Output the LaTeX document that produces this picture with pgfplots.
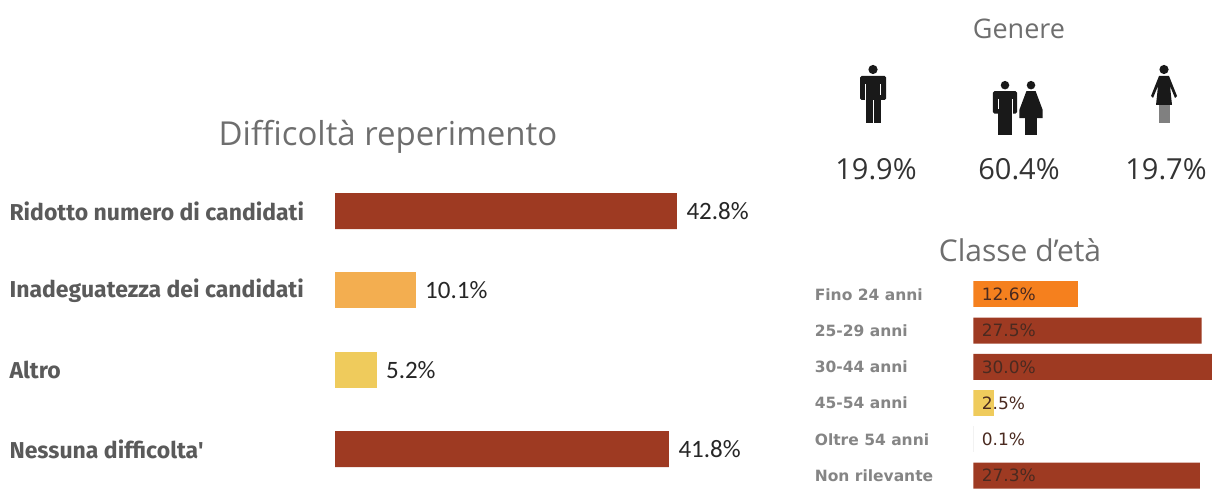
\documentclass[border=0pt]{standalone}
\usepackage{fontspec}
\usepackage{pgfplots}
\usepackage{pgfplotstable}
\pgfplotsset{compat=1.18}
\setmainfont{Open Sans}
\newfontfamily\labfont{Fira Sans}
\newfontfamily\valfont{Carlito}
\newfontfamily\smallfont{DejaVu Sans}
\definecolor{cDark}{HTML}{9E3A22}
\definecolor{cAmber}{HTML}{F3AE50}
\definecolor{cYellow}{HTML}{EFCB5C}
\definecolor{cOrange}{HTML}{F5801E}
\definecolor{cText}{HTML}{5A5A5A}
\definecolor{cTitle}{HTML}{6E6E6E}
\definecolor{cSmall}{HTML}{858585}
\definecolor{cVal}{HTML}{4A2A20}
\newcommand{\fs}[1]{\fontsize{#1}{#1}\selectfont}

% icons, 58 units tall
\newcommand{\man}[3]{\begin{scope}[shift={(#1,#2)},scale=#3]
  \fill[black!90] (0,4.5) circle[radius=4.6];
  \fill[black!90,rounded corners=1.5pt] (-13,11) rectangle (13,35);
  \fill[white] (-8,19) rectangle (-7.2,36);
  \fill[white] (7.2,19) rectangle (8,36);
  \fill[white] (-13.5,35) rectangle (-7.2,36);
  \fill[white] (7.2,35) rectangle (13.5,36);
  \fill[black!90] (-7.5,30) rectangle (-0.5,58);
  \fill[black!90] (0.5,30) rectangle (7.5,58);
\end{scope}}
\newcommand{\woman}[3]{\begin{scope}[shift={(#1,#2)},scale=#3]
  \fill[black!90] (0,4.5) circle[radius=4.6];
  \fill[black!90] (-5,11) -- (5,11) -- (13,31) -- (11,33) -- (6,21) -- (8,40) -- (-8,40) -- (-6,21) -- (-11,33) -- (-13,31) -- cycle;
  \fill[black!50] (-5.5,40) rectangle (5.5,58);
\end{scope}}
\newcommand{\womanwide}[3]{\begin{scope}[shift={(#1,#2)},scale=#3]
  \fill[black!90] (0,4.5) circle[radius=4.6];
  \fill[black!90] (-5,11) -- (5,11) -- (12.5,31) -- (12.5,40) -- (-12.5,40) -- (-12.5,31) -- cycle;
  \fill[black!90] (-6,40) rectangle (-0.5,58);
  \fill[black!90] (0.5,40) rectangle (6,58);
\end{scope}}

\pgfplotstableread{
row val zero
0 12.6 0
1 27.5 0
2 30.0 0
3 2.5 0
4 0.1 0
5 27.3 0
}\agetable

\begin{document}
\begin{tikzpicture}
\useasboundingbox (0,0) rectangle (1212pt,500pt);

% difficolta reperimento
\begin{axis}[
  at={(335pt,11.1pt)}, anchor=south west,
  scale only axis, width=359.55pt, height=317.6pt,
  xmin=0, xmax=45, ymin=-0.5, ymax=3.5, y dir=reverse,
  axis line style={draw=none}, major tick length=0pt,
  xtick=\empty, ytick={0,1,2,3},
  yticklabels={Ridotto numero di candidati,Inadeguatezza dei candidati,Altro,Nessuna difficolta'},
  yticklabel style={anchor=west, xshift=-329pt, font=\labfont\bfseries\fs{23}, text=cText},
  clip=false,
  nodes near coords={\pgfmathprintnumber[fixed,fixed zerofill,precision=1,assume math mode=true]{\pgfplotspointmeta}\%},
  nodes near coords style={anchor=west, xshift=6pt, font=\valfont\fs{25}, text=black!85},
  point meta=x,
]
\addplot[xbar, bar shift=0pt, bar width=36pt, fill=cDark, draw=none] coordinates {(42.8,0) (41.8,3)};
\addplot[xbar, bar shift=0pt, bar width=36pt, fill=cAmber, draw=none] coordinates {(10.1,1)};
\addplot[xbar, bar shift=0pt, bar width=36pt, fill=cYellow, draw=none] coordinates {(5.2,2)};
\end{axis}

% classe d'eta
\begin{axis}[
  at={(973.3pt,6.2pt)}, anchor=south west,
  scale only axis, width=238.7pt, height=217.6pt,
  xmin=0, xmax=28.76, ymin=-0.5, ymax=5.5, y dir=reverse,
  axis line style={draw=none}, major tick length=0pt,
  xtick=\empty, ytick={0,1,2,3,4,5},
  yticklabels={Fino 24 anni,25-29 anni,30-44 anni,45-54 anni,Oltre 54 anni,Non rilevante},
  yticklabel style={anchor=west, xshift=-162pt, font=\smallfont\bfseries\fs{15.5}, text=cSmall},
]
\addplot[xbar, bar shift=0pt, bar width=26pt, fill=cOrange, draw=none] coordinates {(12.6,0)};
\addplot[xbar, bar shift=0pt, bar width=26pt, fill=cDark, draw=none] coordinates {(27.5,1) (30.0,2) (27.3,5)};
\addplot[xbar, bar shift=0pt, bar width=26pt, fill=cYellow, draw=none] coordinates {(2.5,3)};
\addplot[xbar, bar shift=0pt, bar width=26pt, fill=black!8, draw=none] coordinates {(0.1,4)};
\addplot[draw=none, mark=none, point meta=explicit,
  nodes near coords={\pgfmathprintnumber[fixed,fixed zerofill,precision=1,assume math mode=true]{\pgfplotspointmeta}\%},
  nodes near coords style={anchor=west, xshift=5pt, font=\smallfont\fs{17}, text=cVal}]
  table[x=zero, y=row, meta=val] {\agetable};
\end{axis}

% text and icons in pixel coordinates, y downwards
\begin{scope}[shift={(0,500pt)}, x=1pt, y=-1pt]
\node[text=cTitle, font=\fs{33}] at (388,137) {Difficoltà reperimento};
\node[text=cTitle, font=\fs{27}] at (1019,29) {Genere};
\node[text=cTitle, font=\fs{30}] at (1020,250) {Classe d'età};
\node[text=black!80, font=\fs{29}] at (876,169) {19.9\%};
\node[text=black!80, font=\fs{29}] at (1019,169) {60.4\%};
\node[text=black!80, font=\fs{29}] at (1166,169) {19.7\%};
\man{873}{65}{1}
\man{1005}{81}{0.93}
\womanwide{1031}{81}{0.93}
\woman{1164}{65}{1}
\end{scope}
\end{tikzpicture}
\end{document}
